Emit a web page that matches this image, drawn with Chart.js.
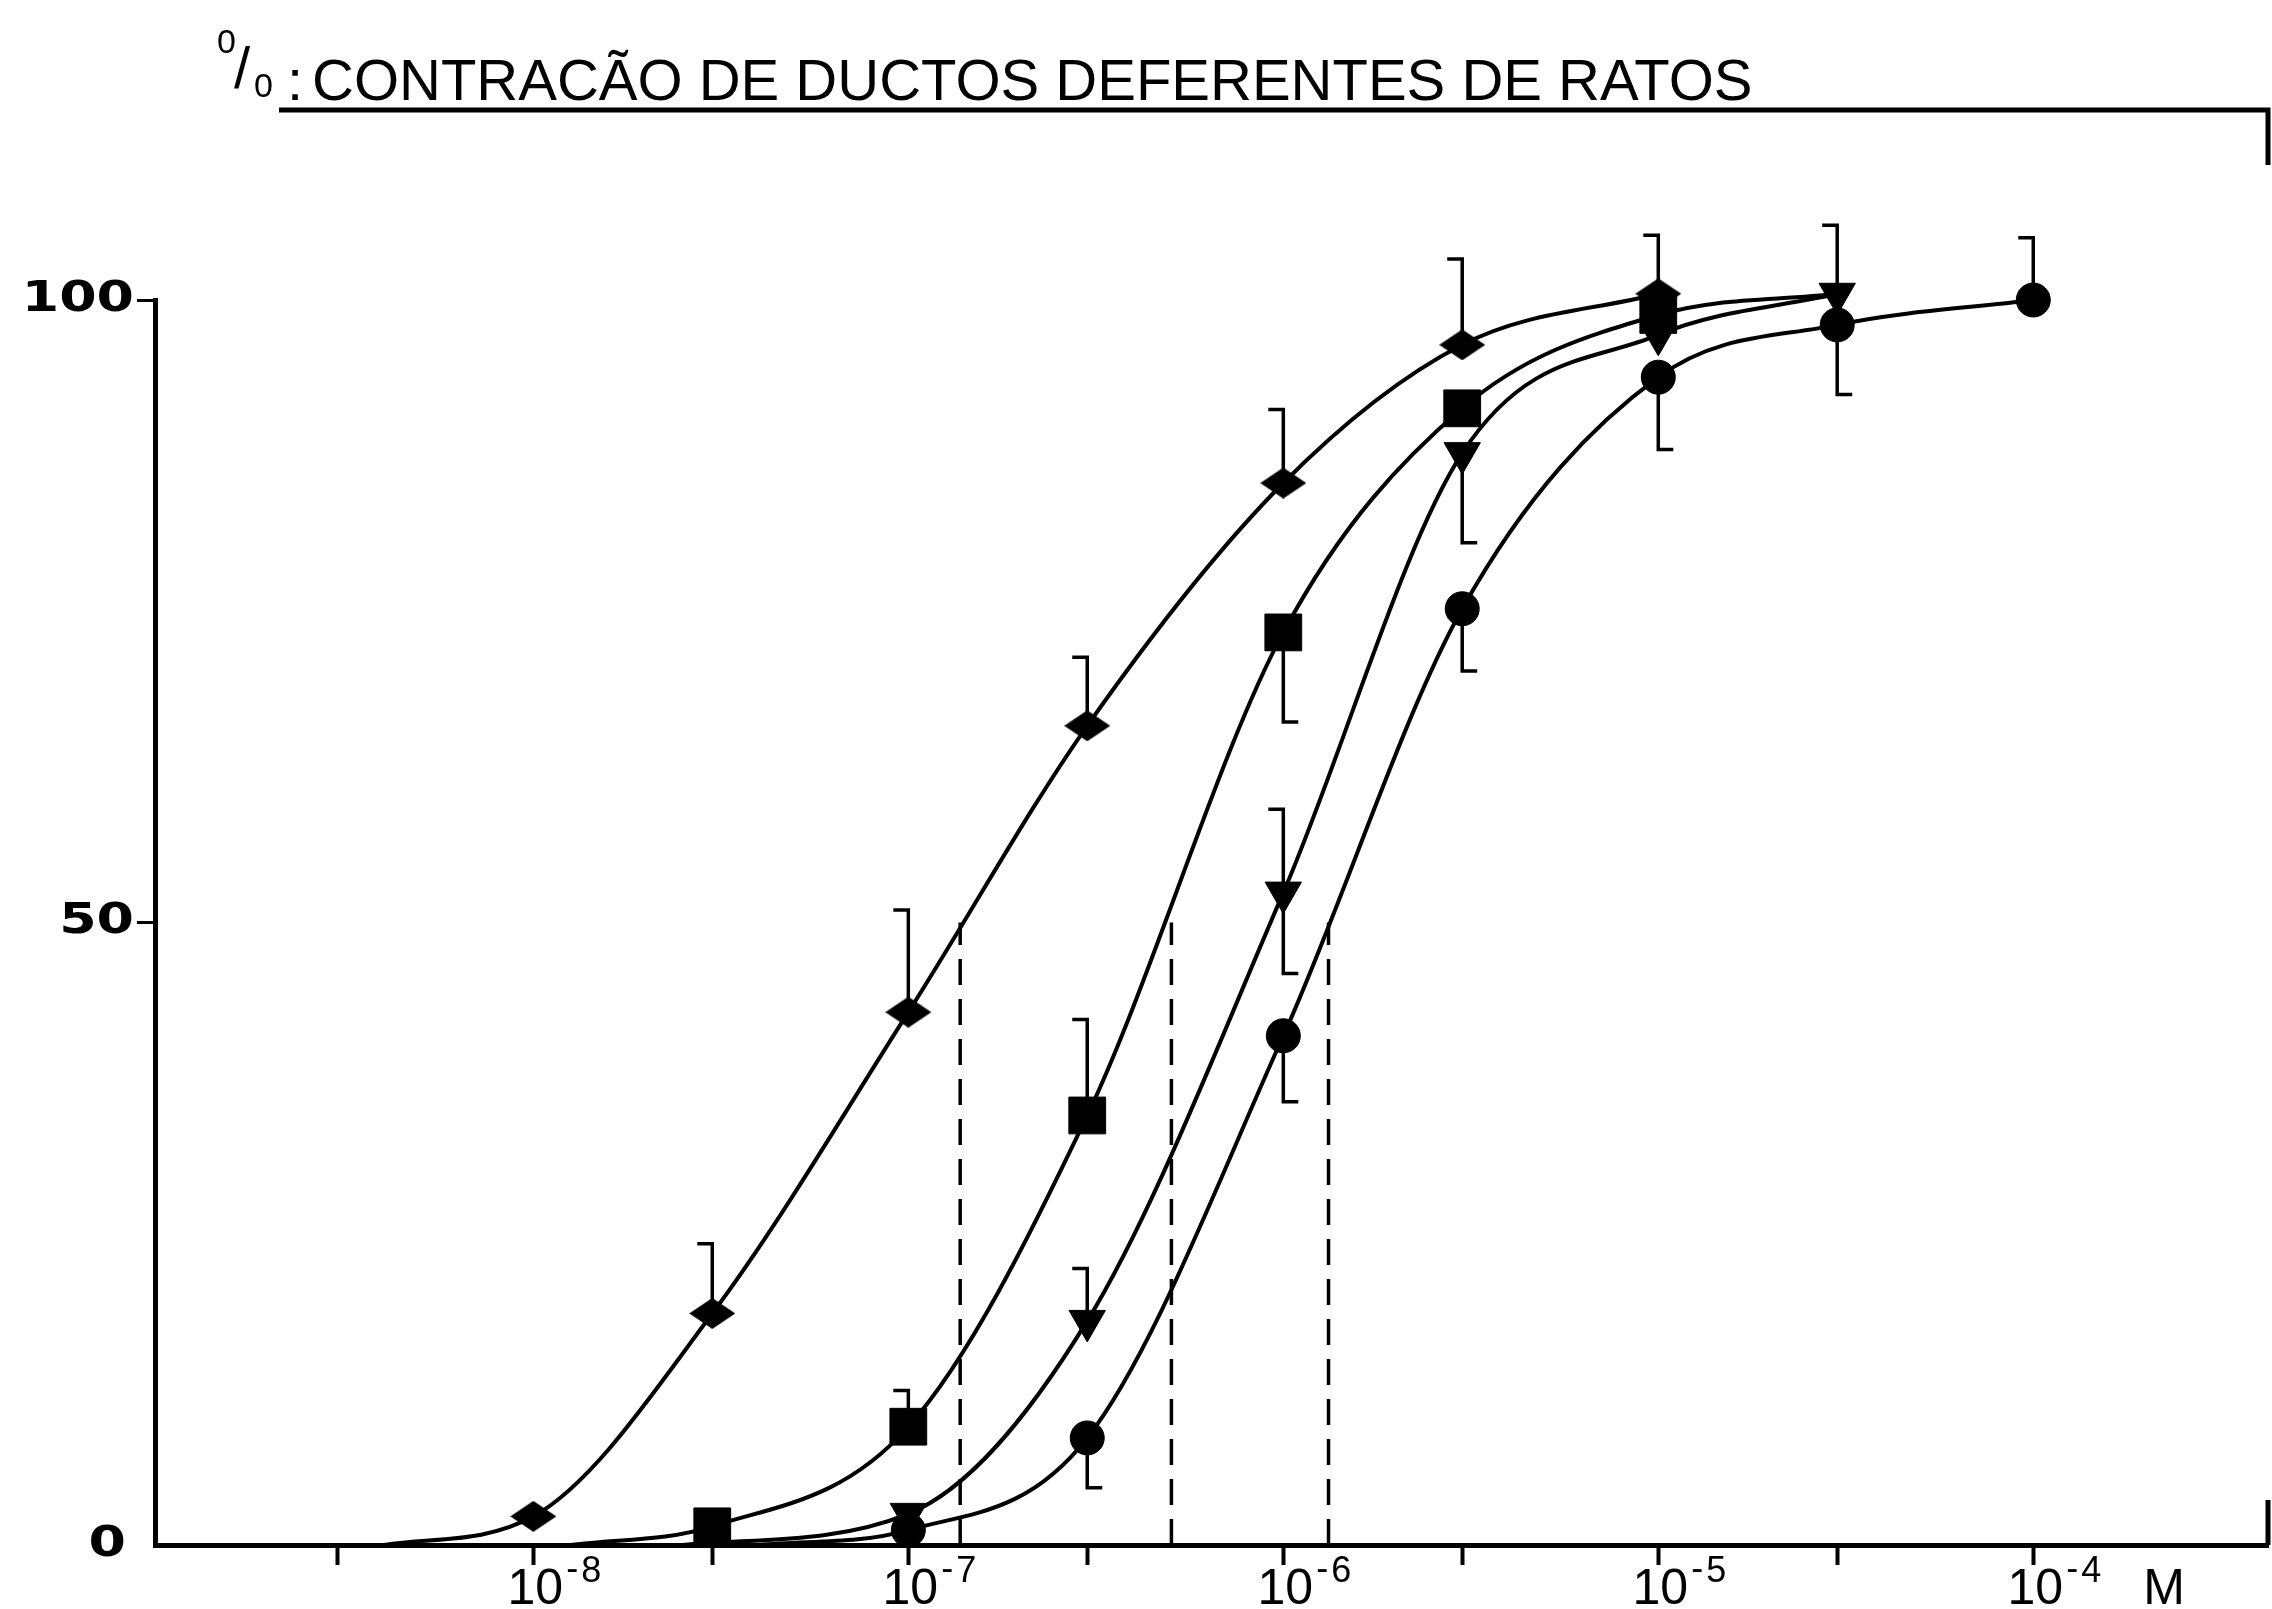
<!DOCTYPE html>
<html>
<head>
<meta charset="utf-8">
<script src="https://cdn.jsdelivr.net/npm/chart.js@4/dist/chart.umd.min.js"></script>
<style>
  html, body { margin: 0; padding: 0; background: #fff; }
</style>
</head>
<body>
<canvas id="chart" width="2272" height="1609"></canvas>
<script>
// concentrations (M) and % contraction
const diamondX = [1e-8, 3e-8, 1e-7, 3e-7, 1e-6, 3e-6, 1e-5];
const diamondY = [2.3, 18.6, 42.8, 65.8, 85.3, 96.4, 100.5];
const diamondErrUp = [null, 24.2, 51.0, 71.3, 91.2, 103.3, 105.2];
const diamondErrDown = [null, null, null, null, null, null, null];

const squareX = [3e-8, 1e-7, 3e-7, 1e-6, 3e-6, 1e-5];
const squareY = [1.5, 9.5, 34.5, 73.3, 91.3, 98.8];
const squareErrUp = [null, 12.4, 42.2, null, null, null];
const squareErrDown = [null, null, null, 66.1, null, null];

const triangleX = [1e-7, 3e-7, 1e-6, 3e-6, 1e-5, 3e-5];
const triangleY = [2.5, 18.0, 52.4, 87.7, 97.2, 100.5];
const triangleErrUp = [null, 22.2, 59.1, null, null, 106.0];
const triangleErrDown = [null, null, 45.9, 80.5, null, null];

const circleX = [1e-7, 3e-7, 1e-6, 3e-6, 1e-5, 3e-5, 1e-4];
const circleY = [1.2, 8.6, 40.9, 75.2, 93.8, 98.0, 100];
const circleErrUp = [null, null, null, null, null, null, 105.0];
const circleErrDown = [null, 4.6, 35.6, 70.2, 88.0, 92.4, null];

// where each fitted curve leaves the baseline (diamond, square, triangle, circle)
const curveStartX = [4.0e-9, 1.26e-8, 2.5e-8, 4.0e-8];
// square curve runs on to meet the triangle at 3e-5
const squareTailX = [3e-5];
const squareTailY = [100.5];

// EC50 drop lines (dashed) at 50 %
const ec50 = [1.375e-7, 5.03e-7, 1.32e-6];

const yTicks = [0, 50, 100];
const xTicks = [3e-9, 1e-8, 3e-8, 1e-7, 3e-7, 1e-6, 3e-6, 1e-5, 3e-5, 1e-4];
const decadeExponents = [-8, -7, -6, -5, -4];
const unitLabel = 'M';
const titleText = 'CONTRACÃO DE DUCTOS DEFERENTES DE RATOS';

function pts(xs, ys) {
    return xs.map((x, i) => ({ x: x, y: ys[i] }));
}

function makeDiamond(w, h) {
    const c = document.createElement('canvas');
    c.width = w;
    c.height = h;
    const g = c.getContext('2d');
    g.fillStyle = '#000';
    g.beginPath();
    g.moveTo(w / 2, 0);
    g.lineTo(w, h / 2);
    g.lineTo(w / 2, h);
    g.lineTo(0, h / 2);
    g.closePath();
    g.fill();
    return c;
}

const curveBase = {
    type: 'line',
    borderColor: '#000',
    borderWidth: 4,
    pointRadius: 0,
    cubicInterpolationMode: 'monotone',
    fill: false,
    clip: false
};
const markerBase = {
    type: 'scatter',
    showLine: false,
    backgroundColor: '#000',
    borderColor: '#000',
    borderWidth: 1,
    clip: false
};

const datasets = [
    ...ec50.map(e => ({
        type: 'line',
        data: [{ x: e, y: 0 }, { x: e, y: 50 }],
        borderColor: '#000',
        borderWidth: 3.5,
        borderDash: [26, 14],
        pointRadius: 0,
        clip: false
    })),
    { ...curveBase, data: [{ x: curveStartX[0], y: 0 }, ...pts(diamondX, diamondY)] },
    { ...curveBase, data: [{ x: curveStartX[1], y: 0 }, ...pts(squareX, squareY), ...pts(squareTailX, squareTailY)] },
    { ...curveBase, data: [{ x: curveStartX[2], y: 0 }, ...pts(triangleX, triangleY)] },
    { ...curveBase, data: [{ x: curveStartX[3], y: 0 }, ...pts(circleX, circleY)] },
    { ...markerBase, data: pts(squareX, squareY), pointStyle: 'rect', pointRadius: 26 },
    { ...markerBase, data: pts(triangleX, triangleY), pointStyle: 'triangle', pointRotation: 180, pointRadius: 21 },
    { ...markerBase, data: pts(diamondX, diamondY), pointStyle: makeDiamond(46, 31), pointRadius: 20 },
    { ...markerBase, data: pts(circleX, circleY), pointStyle: 'circle', pointRadius: 17 }
];

const errorSeries = [
    { xs: diamondX, ys: diamondY, up: diamondErrUp, down: diamondErrDown },
    { xs: squareX, ys: squareY, up: squareErrUp, down: squareErrDown },
    { xs: triangleX, ys: triangleY, up: triangleErrUp, down: triangleErrDown },
    { xs: circleX, ys: circleY, up: circleErrUp, down: circleErrDown }
];

const errorBars = {
    id: 'errorBars',
    beforeDatasetsDraw(chart) {
        const { ctx, scales: { x, y } } = chart;
        ctx.save();
        ctx.strokeStyle = '#000';
        ctx.lineWidth = 3.5;
        errorSeries.forEach(s => {
            s.xs.forEach((cx, i) => {
                const px = x.getPixelForValue(cx);
                const py = y.getPixelForValue(s.ys[i]);
                if (s.up[i] != null) {
                    const ey = y.getPixelForValue(s.up[i]);
                    ctx.beginPath();
                    ctx.moveTo(px, py);
                    ctx.lineTo(px, ey);
                    ctx.lineTo(px - 15, ey);
                    ctx.stroke();
                }
                if (s.down[i] != null) {
                    const ey = y.getPixelForValue(s.down[i]);
                    ctx.beginPath();
                    ctx.moveTo(px, py);
                    ctx.lineTo(px, ey);
                    ctx.lineTo(px + 15, ey);
                    ctx.stroke();
                }
            });
        });
        ctx.restore();
    }
};

const decorations = {
    id: 'decorations',
    afterDraw(chart) {
        const { ctx, chartArea, scales: { x, y } } = chart;
        ctx.save();
        ctx.fillStyle = '#000';
        ctx.strokeStyle = '#000';

        // title "%:" drawn as 0/0 like the original
        ctx.textAlign = 'left';
        ctx.textBaseline = 'alphabetic';
        ctx.font = '34px "Liberation Sans"';
        ctx.fillText('0', 217, 53);
        ctx.fillText('0', 254, 97);
        ctx.font = '58px "Liberation Sans"';
        ctx.fillText('/', 234, 88);
        ctx.fillText(':', 287, 100);
        ctx.fillText(titleText, 312, 100);

        // rule under the title and bits of the frame on the right
        ctx.lineWidth = 5;
        ctx.beginPath();
        ctx.moveTo(279, 110);
        ctx.lineTo(chartArea.right, 110);
        ctx.lineTo(chartArea.right, 165);
        ctx.stroke();
        ctx.beginPath();
        ctx.moveTo(chartArea.right, 1500);
        ctx.lineTo(chartArea.right, chartArea.bottom);
        ctx.stroke();

        // y labels, a wide bold face like the original
        ctx.font = 'bold 42px "DejaVu Sans"';
        ctx.textAlign = 'right';
        ctx.textBaseline = 'middle';
        yTicks.forEach(v => {
            const py = y.getPixelForValue(v);
            const right = v === 0 ? 126 : 134;
            ctx.save();
            ctx.translate(right, py);
            ctx.scale(1.28, 1);
            ctx.fillText(String(v), 0, 0);
            ctx.restore();
        });

        // decade labels 10^n
        ctx.textBaseline = 'alphabetic';
        decadeExponents.forEach(e => {
            const px = x.getPixelForValue(Math.pow(10, e));
            ctx.font = '50px "Liberation Sans"';
            ctx.textAlign = 'center';
            ctx.fillText('10', px + 2, 1604);
            ctx.font = '36px "Liberation Sans"';
            ctx.textAlign = 'left';
            ctx.fillText('-', px + 33, 1580);
            ctx.fillText(String(Math.abs(e)), px + 48, 1582);
        });
        ctx.font = '50px "Liberation Sans"';
        ctx.textAlign = 'left';
        ctx.fillText(unitLabel, x.getPixelForValue(1e-4) + 110, 1604);
        ctx.restore();
    }
};

new Chart(document.getElementById('chart'), {
    data: { datasets: datasets },
    options: {
        responsive: false,
        animation: false,
        devicePixelRatio: 1,
        layout: { autoPadding: false, padding: { left: 0, right: 4, top: 300, bottom: 0 } },
        plugins: {
            legend: { display: false },
            tooltip: { enabled: false }
        },
        scales: {
            x: {
                type: 'logarithmic',
                position: 'bottom',
                min: Math.pow(10, -9.009),
                max: Math.pow(10, -3.374),
                afterBuildTicks: (scale) => {
                    scale.ticks = xTicks.map(v => ({ value: v }));
                },
                afterFit: (scale) => { scale.height = 64; },
                ticks: { display: false },
                grid: {
                    display: true,
                    drawOnChartArea: false,
                    drawTicks: true,
                    tickLength: 20,
                    tickWidth: 4,
                    tickColor: '#000'
                },
                border: { display: true, color: '#000', width: 5 }
            },
            y: {
                type: 'linear',
                min: 0,
                max: 100,
                afterBuildTicks: (scale) => {
                    scale.ticks = yTicks.map(v => ({ value: v }));
                },
                afterFit: (scale) => { scale.width = 155; },
                ticks: { display: false },
                grid: {
                    display: true,
                    drawOnChartArea: false,
                    drawTicks: true,
                    tickLength: 18,
                    tickWidth: 3,
                    tickColor: (c) => (c.tick && c.tick.value === 0) ? 'rgba(0,0,0,0)' : '#000'
                },
                border: { display: true, color: '#000', width: 5 }
            }
        }
    },
    plugins: [errorBars, decorations]
});
</script>
</body>
</html>
